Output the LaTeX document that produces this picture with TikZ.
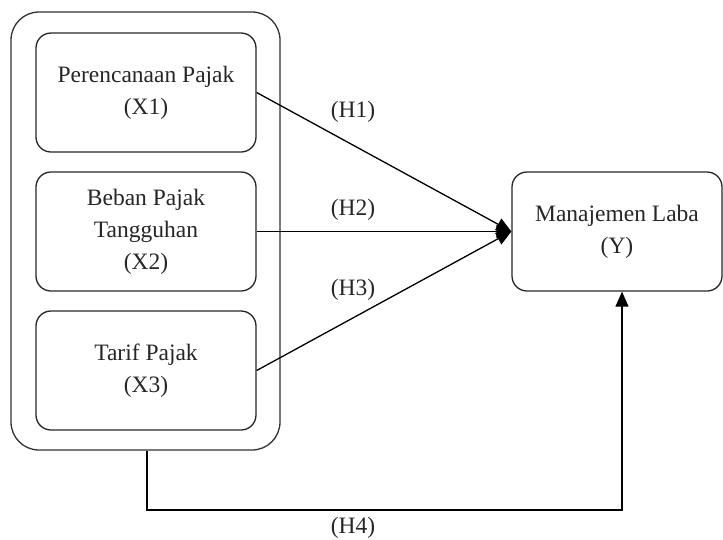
\documentclass[tikz,border=0pt]{standalone}
\usepackage{fontspec}
\setmainfont{Liberation Serif}
\usetikzlibrary{arrows.meta}
\begin{document}
\begin{tikzpicture}[x=1pt,y=-1pt,
  box/.style={draw=black!85, line width=1.3pt, rounded corners=15pt, align=center,
    minimum width=220pt, minimum height=119pt, inner sep=0pt,
    font=\fontsize{23.5}{32}\selectfont, text=black!85},
  outerbox/.style={draw=black!80, line width=1.3pt, rounded corners=28pt,
    minimum width=269pt, minimum height=438pt, inner sep=0pt},
  conn/.style={draw=black, line width=1.3pt, -{Triangle[length=15pt,width=13pt]}},
  lbl/.style={font=\fontsize{23.5}{28}\selectfont, text=black!85, inner sep=0pt}]
\useasboundingbox (0,0) rectangle (723,539);
\node[outerbox] (outer) at (145.5,231) {};
\node[box] (x1) at (146,92.5) {Perencanaan Pajak\\(X1)};
\node[box] (x2) at (146,231.5) {Beban Pajak\\Tangguhan\\(X2)};
\node[box] (x3) at (146,370.5) {Tarif Pajak\\(X3)};
\node[box, minimum width=210pt] (y) at (617,231.5) {Manajemen Laba\\(Y)};
\draw[conn] (x1.east) -- (y.west);
\draw[conn] (x2.east) -- (y.west);
\draw[conn] (x3.east) -- (y.west);
\coordinate (c1) at (147,510);
\coordinate (c2) at (622,510);
\draw[conn] (outer.south -| c1) -- (c1) -- (c2) -- (y.south -| c2);
\node[lbl] (h1) at (353,112) {(H1)};
\node[lbl] (h2) at (353,210) {(H2)};
\node[lbl] (h3) at (353,290) {(H3)};
\node[lbl] (h4) at (353,528) {(H4)};
\end{tikzpicture}
\end{document}
